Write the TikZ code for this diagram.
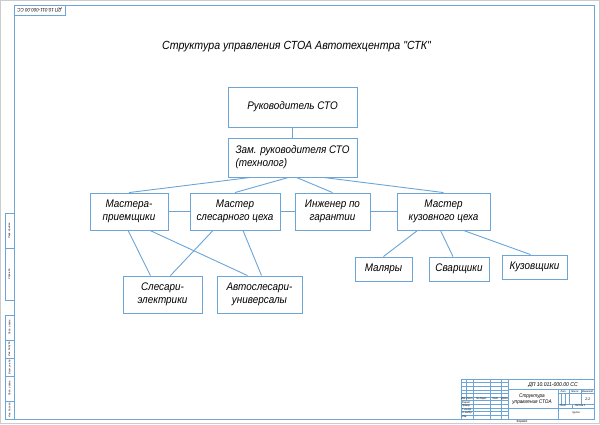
\documentclass[tikz,border=0pt]{standalone}
\usepackage{fontspec}
\setmainfont{Liberation Sans}
\newfontfamily\gost[FakeStretch=0.9]{Liberation Sans}
\definecolor{lineblue}{RGB}{108,165,214}

\tikzset{
  box/.style={draw=lineblue, line width=0.9pt, fill=white, align=center,
    inner sep=1pt, font=\gost\itshape\fontsize{11}{13}\selectfont},
  link/.style={draw=lineblue, line width=0.9pt},
  frm/.style={draw=lineblue, line width=1pt},
  grid/.style={draw=lineblue, line width=0.45pt},
  tiny/.style={inner sep=0pt, font=\gost\itshape\fontsize{2.6}{3}\selectfont},
  small/.style={inner sep=0pt, align=center, font=\gost\itshape\fontsize{5.2}{6}\selectfont},
}

\begin{document}
\begin{tikzpicture}[x=1pt,y=-1pt]
    \useasboundingbox (0,0) rectangle (600,424);
    \fill[white] (0,0) rectangle (600,424);
    \draw[black!20] (0.5,0.5) rectangle (599.5,423.5);
    % frame of the sheet
    \draw[frm] (14,5) rectangle (594,419);
    \node[draw=lineblue, line width=0.6pt, minimum width=51pt, minimum height=10pt,
      inner sep=0pt, rotate=180, font=\gost\itshape\fontsize{5}{5}\selectfont]
      (mirr) at (39.5,10) {ДП 10.011-000.00 СС};
    % side columns
    \draw[grid] (5,213) rectangle (14,300);
    \draw[grid] (5,248) -- (14,248);
    \draw[grid] (5,315) rectangle (14,419);
    \foreach \yy in {340,358,376,401} \draw[grid] (5,\yy) -- (14,\yy);
    \node[tiny, rotate=90] (perv) at (9.5,230.5) {Перв. примен.};
    \node[tiny, rotate=90] (sprav) at (9.5,274) {Справ. №};
    \node[tiny, rotate=90] (pd1) at (9.5,327.5) {Подп. и дата};
    \node[tiny, rotate=90] (dubl) at (9.5,349) {Инв. № дубл.};
    \node[tiny, rotate=90] (vzam) at (9.5,367) {Взам. инв. №};
    \node[tiny, rotate=90] (pd2) at (9.5,388.5) {Подп. и дата};
    \node[tiny, rotate=90] (podl) at (9.5,410) {Инв. № подл.};
    % title block
    \draw[frm] (461,379) rectangle (594,419);
    \draw[frm] (508,379) -- (508,419);
    \draw[frm] (508,389.8) -- (594,389.8);
    \draw[frm] (558,389.8) -- (558,419);
    \foreach \yy in {382.6,386.2,389.8,393.4,397,404.2,407.8,411.4,415} \draw[grid] (461,\yy) -- (508,\yy);
    \draw[frm] (461,400.6) -- (508,400.6);
    \foreach \xx in {473,490,501} \draw[grid] (\xx,379) -- (\xx,419);
    \draw[grid] (466,379) -- (466,400.6);
    \draw[grid] (508,407.8) -- (558,407.8);
    \draw[grid] (558,393.4) -- (594,393.4);
    \draw[grid] (558,404.2) -- (594,404.2);
    \draw[grid] (558,407.8) -- (594,407.8);
    \foreach \xx in {561.6,565.2,568.8} \draw[grid] (\xx,393.4) -- (\xx,404.2);
    \draw[grid] (568.8,389.8) -- (568.8,404.2);
    \draw[grid] (581,389.8) -- (581,404.2);
    \draw[grid] (572.4,404.2) -- (572.4,407.8);
    \node[tiny] (izm) at (463.5,398.8) {Изм.};
    \node[tiny] (list) at (469.5,398.8) {Лист};
    \node[tiny] (ndoc) at (481.5,398.8) {№ докум.};
    \node[tiny] (podp) at (495.5,398.8) {Подп.};
    \node[tiny] (data) at (504.5,398.8) {Дата};
    \node[tiny, anchor=west] (razr) at (461.6,402.4) {Разраб.};
    \node[tiny, anchor=west] (prov) at (461.6,406) {Провер.};
    \node[tiny, anchor=west] (tkon) at (461.6,409.6) {Т. контр.};
    \node[tiny, anchor=west] (nkon) at (461.6,413.2) {Н. контр.};
    \node[tiny, anchor=west] (utv) at (461.6,416.8) {Утв.};
    \node[small, font=\gost\itshape\fontsize{5.6}{6}\selectfont] (oboz) at (553,384.6) {ДП 10.011-000.00 СС};
    \node[small] (naim) at (532,398.8) {Структура\\управления СТОА};
    \node[tiny] (lit) at (563.4,391.6) {Лит.};
    \node[tiny] (massa) at (574.9,391.6) {Масса};
    \node[tiny] (mash) at (587.5,391.6) {Масштаб};
    \node[tiny, font=\gost\itshape\fontsize{4}{4}\selectfont] (m11) at (587.5,399) {1:1};
    \node[tiny] (lst) at (563,406) {Лист};
    \node[tiny] (lstv) at (580,406) {Листов 1};
    \node[tiny] (grp) at (576,413) {Группа};
    \node[tiny, font=\gost\itshape\fontsize{3}{3}\selectfont] (fmt) at (522,421.5) {Формат};
    % title
    \node[inner sep=0pt, font=\gost\itshape\fontsize{11.8}{13}\selectfont] (ttl) at (296.5,47)
      {Структура управления СТОА Автотехцентра "СТК"};
    % boxes
    \node[box, minimum width=129pt, minimum height=40pt] (ruk) at (292.5,107) {Руководитель СТО};
    \node[box, minimum width=129pt, minimum height=39pt, align=left] (zam) at (292.5,157.5)
      {Зам. руководителя СТО\\(технолог)};
    \node[box, minimum width=78pt, minimum height=37pt] (mp) at (129,211.5) {Мастера-\\приемщики};
    \node[box, minimum width=90pt, minimum height=37pt] (msc) at (235,211.5) {Мастер\\слесарного цеха};
    \node[box, minimum width=75pt, minimum height=37pt] (ing) at (332.5,211.5) {Инженер по\\гарантии};
    \node[box, minimum width=93pt, minimum height=37pt] (mkc) at (443.5,211.5) {Мастер\\кузовного цеха};
    \node[box, minimum width=79pt, minimum height=37pt] (se) at (162.5,294.5) {Слесари-\\электрики};
    \node[box, minimum width=85pt, minimum height=37pt] (au) at (259.5,294.5) {Автослесари-\\универсалы};
    \node[box, minimum width=57pt, minimum height=24pt] (mal) at (383.5,269) {Маляры};
    \node[box, minimum width=60pt, minimum height=24pt] (sv) at (459,269) {Сварщики};
    \node[box, minimum width=65pt, minimum height=24pt] (kuz) at (534.5,267) {Кузовщики};
    % links
    \draw[link] (ruk) -- (zam);
    \draw[link] ([xshift=-42]zam.south) -- (mp.north);
    \draw[link] ([xshift=-4]zam.south) -- (msc.north);
    \draw[link] ([xshift=4]zam.south) -- (ing.north);
    \draw[link] ([xshift=31]zam.south) -- (mkc.north);
    \draw[link] (mp) -- (msc);
    \draw[link] (msc) -- (ing);
    \draw[link] (ing) -- (mkc);
    \draw[link] ([xshift=-1]mp.south) -- ([xshift=-12]se.north);
    \draw[link] ([xshift=21]mp.south) -- ([xshift=-12]au.north);
    \draw[link] ([xshift=-22]msc.south) -- ([xshift=8]se.north);
    \draw[link] ([xshift=8]msc.south) -- ([xshift=2]au.north);
    \draw[link] ([xshift=-26]mkc.south) -- (mal.north);
    \draw[link] ([xshift=-3]mkc.south) -- ([xshift=-6]sv.north);
    \draw[link] ([xshift=20]mkc.south) -- ([xshift=-4]kuz.north);
\end{tikzpicture}
\end{document}
